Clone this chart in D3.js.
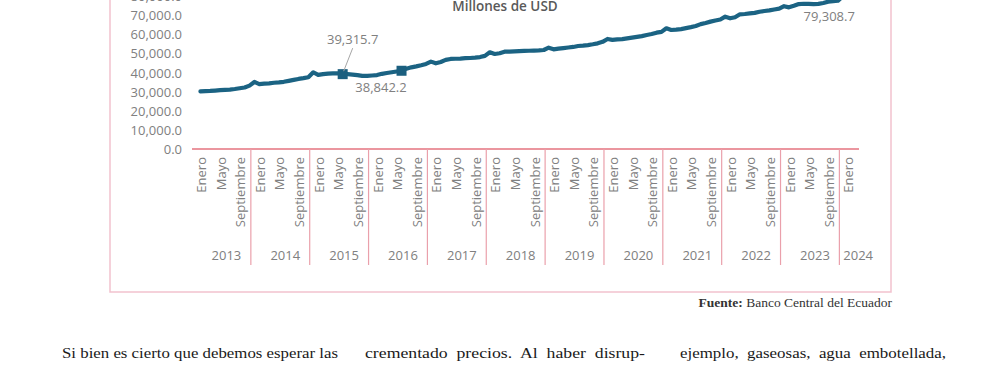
<!DOCTYPE html>
<html>
<head>
<meta charset="utf-8">
<script src="https://cdn.jsdelivr.net/npm/d3@7"></script>
<style>
  body { margin: 0; background: #fff; }
  svg { display: block; }
  .axis-label { font-family: "Open Sans", sans-serif; font-size: 13px; fill: #808080; }
</style>
</head>
<body>
<svg id="chart" width="1000" height="365"></svg>
<script>
// data
const years = ["2013", "2014", "2015", "2016", "2017", "2018", "2019", "2020", "2021", "2022", "2023", "2024"];
const monthsPerYear = [12, 12, 12, 12, 12, 12, 12, 12, 12, 12, 12, 4];
const monthNames = ["Enero", "Febrero", "Marzo", "Abril", "Mayo", "Junio", "Julio", "Agosto", "Septiembre", "Octubre", "Noviembre", "Diciembre"];
const depositos = [
  // 2013
  30300, 30400, 30500, 30700, 30900, 31100, 31200, 31500, 31900, 32300, 33300, 35200,
  // 2014
  34100, 34300, 34500, 34800, 35000, 35300, 35800, 36300, 36800, 37200, 37700, 40300,
  // 2015
  38900, 39300, 39600, 39700, 39700, 39315.7, 39300, 39100, 38800, 38400, 38400, 38600,
  // 2016
  38842.2, 39500, 39900, 40300, 40700, 41100, 42200, 42900, 43400, 44000, 44700, 45900,
  // 2017
  45000, 45700, 46800, 47300, 47400, 47500, 47700, 47800, 48000, 48300, 48900, 50800,
  // 2018
  49900, 50300, 51100, 51200, 51300, 51400, 51500, 51600, 51700, 51800, 52000, 53200,
  // 2019
  52350, 52700, 53000, 53300, 53600, 54100, 54300, 54600, 55000, 55500, 56300, 57800,
  // 2020
  57300, 57600, 57700, 58100, 58500, 58900, 59300, 59900, 60400, 61100, 61500, 63400,
  // 2021
  62500, 62700, 63000, 63500, 64000, 64600, 65600, 66200, 66900, 67500, 68000, 69500,
  // 2022
  68650, 69200, 70750, 70900, 71200, 71500, 72100, 72500, 72800, 73300, 73700, 75000,
  // 2023
  74400, 75200, 76150, 76300, 76200, 76100, 76200, 76700, 77400, 77700, 77900, 80300,
  // 2024
  79308.7, 79700, 80200, 80800
];
const yTicks = [0, 10000, 20000, 30000, 40000, 50000, 60000, 70000, 80000];
const markedIdx = [29, 41];
const labelIdx = [29, 36, 128];
const labelText = ["39,315.7", "38,842.2", "79,308.7"];

const svg = d3.select("#chart");
const axisY = 149, sepBottom = 265, shift = 6;

// categories
let cats = [];
years.forEach((yr, k) => {
  for (let m = 0; m < monthsPerYear[k]; m++) cats.push({ year: yr, month: monthNames[m], m: m });
});

const x = d3.scaleBand()
  .domain(d3.range(cats.length))
  .range([192, 859])
  .paddingInner(0);
const px = i => x(i) + x.bandwidth() / 2 + shift;

const y = d3.scaleLinear()
  .domain([0, 80000])
  .range([axisY, -3.3]);

// outer frame
svg.append("rect")
  .attr("x", 110).attr("y", -20)
  .attr("width", 781).attr("height", 312)
  .attr("fill", "none")
  .attr("stroke", "#f2c2ce")
  .attr("stroke-width", 1.5);

// title
svg.append("text")
  .attr("x", 505).attr("y", 11)
  .attr("text-anchor", "middle")
  .attr("font-family", "'Open Sans', sans-serif")
  .attr("font-size", "13.5px")
  .attr("font-weight", 600)
  .attr("fill", "#595959")
  .text("Millones de USD");

// y axis
let yAxis = svg.append("g")
  .attr("transform", "translate(188,0)")
  .call(d3.axisLeft(y).tickValues(yTicks).tickSize(0).tickPadding(6)
    .tickFormat(d3.format(",.1f")));
yAxis.selectAll(".domain").remove();
yAxis.selectAll(".tick text").attr("class", "axis-label").attr("font-size", null).attr("font-family", null);

// x axis line
svg.append("line")
  .attr("x1", x.range()[0]).attr("x2", x.range()[1])
  .attr("y1", axisY).attr("y2", axisY)
  .attr("stroke", "#e5737f")
  .attr("stroke-width", 1.5);

// year separators
let start = 0;
const yearStarts = monthsPerYear.map(n => { const s = start; start += n; return s; });
yearStarts.slice(1).forEach(s => {
  svg.append("line")
    .attr("x1", x(s)).attr("x2", x(s))
    .attr("y1", axisY).attr("y2", sepBottom)
    .attr("stroke", "#eaa0ab")
    .attr("stroke-width", 1.2);
});

// month labels (every 4 months)
svg.append("g").selectAll("text")
  .data(cats.map((c, i) => ({ ...c, i })).filter(c => c.m % 4 === 0))
  .join("text")
  .attr("class", "axis-label")
  .attr("transform", d => "translate(" + (px(d.i) + 1) + "," + 157 + ") rotate(-90)")
  .attr("text-anchor", "end")
  .attr("dy", "0.35em")
  .text(d => d.month);

// year labels
svg.append("g").selectAll("text")
  .data(years)
  .join("text")
  .attr("class", "axis-label")
  .attr("x", (d, k) => {
    const a = x(yearStarts[k]), b = x(yearStarts[k] + monthsPerYear[k] - 1) + x.bandwidth();
    return (a + b) / 2 + (k === years.length - 1 ? 9 : 5);
  })
  .attr("y", 260)
  .attr("text-anchor", "middle")
  .text(d => d);

// line
const line = d3.line()
  .x((d, i) => px(i))
  .y(d => y(d));

svg.append("path")
  .datum(depositos)
  .attr("d", line)
  .attr("fill", "none")
  .attr("stroke", "#1b6383")
  .attr("stroke-width", 4.2)
  .attr("stroke-linejoin", "round")
  .attr("stroke-linecap", "round");

// markers
svg.append("g").selectAll("rect")
  .data(markedIdx)
  .join("rect")
  .attr("x", i => px(i) - 5)
  .attr("y", i => y(depositos[i]) - 5)
  .attr("width", 10).attr("height", 10)
  .attr("fill", "#1b5f7f");

// data labels
const labelOffsets = [[10, -35], [4, 12], [1, 15]];
labelIdx.forEach((i, k) => {
  const lx = px(i) + labelOffsets[k][0],
    ly = y(depositos[i]) + labelOffsets[k][1];
  if (k === 0) {
    svg.append("line")
      .attr("x1", lx).attr("y1", ly + 9)
      .attr("x2", px(i) + 1).attr("y2", y(depositos[i]) - 3)
      .attr("stroke", "#a6a6a6")
      .attr("stroke-width", 1);
  }
  svg.append("text")
    .attr("class", "axis-label")
    .attr("x", lx).attr("y", ly)
    .attr("dy", "0.35em")
    .attr("text-anchor", "middle")
    .attr("fill", "#7a7a7a")
    .text(labelText[k]);
});

// source
const src = svg.append("text")
  .attr("x", 892).attr("y", 307)
  .attr("text-anchor", "end")
  .attr("font-family", "'Liberation Serif', serif")
  .attr("font-size", "13.5px")
  .attr("fill", "#333");
src.append("tspan").attr("font-weight", "bold").text("Fuente:");
src.append("tspan").text(" Banco Central del Ecuador");

// body text below the chart
const bodyText = ["Si bien es cierto que debemos esperar las", "crementado  precios.  Al  haber  disrup-", "ejemplo,  gaseosas,  agua  embotellada,"];
const bodyX = [62, 365, 680], bodyW = [276, 280, 266];
bodyText.forEach((t, k) => {
  svg.append("text")
    .attr("x", bodyX[k]).attr("y", 358)
    .attr("font-family", "'Liberation Serif', serif")
    .attr("font-size", "15px")
    .attr("fill", "#1a1a1a")
    .attr("textLength", bodyW[k])
    .attr("lengthAdjust", "spacingAndGlyphs")
    .attr("xml:space", "preserve")
    .text(t);
});
</script>
</body>
</html>
